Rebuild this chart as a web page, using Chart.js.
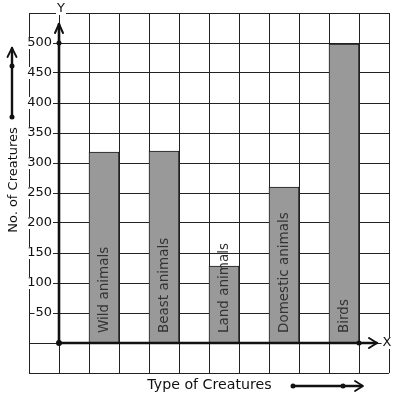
<!DOCTYPE html>
<html>
<head>
<meta charset="utf-8">
<script src="https://cdn.jsdelivr.net/npm/chart.js@4"></script>
<style>
  html, body { margin: 0; padding: 0; background: #fff; }
  #wrap { width: 397px; height: 399px; }
</style>
</head>
<body>
<div id="wrap"><canvas id="chart" width="397" height="399"></canvas></div>
<script>
// --- Data ---
const categories = ['Wild animals', 'Beast animals', 'Land animals', 'Domestic animals', 'Birds'];
const counts = [318, 320, 128, 260, 498];
const yTicks = [50, 100, 150, 200, 250, 300, 350, 400, 450, 500];
const xTitle = 'Type of Creatures';
const yTitle = 'No. of Creatures';

// 12 grid columns, one bar in every second column starting at column 2
const COLS = 12;
const slotLabels = new Array(COLS).fill('');
const slotValues = new Array(COLS).fill(null);
categories.forEach((c, i) => {
    slotLabels[2 + i * 2] = c;
    slotValues[2 + i * 2] = counts[i];
});

const FONT = '"DejaVu Sans", sans-serif';
const INK = '#111';

function dot(ctx, x, y, r) {
    ctx.beginPath();
    ctx.arc(x, y, r, 0, Math.PI * 2);
    ctx.fill();
}

function labelBox(ctx, text, x, y, align) {
    const w = ctx.measureText(text).width;
    const left = align === 'right' ? x - w : (align === 'center' ? x - w / 2 : x);
    ctx.fillStyle = '#fff';
    ctx.fillRect(left - 1, y - 6, w + 2, 12);
    ctx.fillStyle = INK;
    ctx.textAlign = align;
    ctx.fillText(text, x, y);
}

const decorations = {
    id: 'decorations',
    afterDatasetsDraw(chart) {
        const ctx = chart.ctx;
        const xs = chart.scales.x, ys = chart.scales.y;
        const ax = xs.getPixelForValue(0.5);
        const ay = ys.getPixelForValue(0);
        const top = chart.chartArea.top;
        const right = chart.chartArea.right;
        ctx.save();
        ctx.strokeStyle = INK;
        ctx.fillStyle = INK;
        ctx.lineCap = 'round';
        ctx.lineJoin = 'round';

        // axes
        ctx.lineWidth = 2.6;
        ctx.beginPath();
        ctx.moveTo(ax, ay);
        ctx.lineTo(ax, top + 11);
        ctx.moveTo(ax, ay);
        ctx.lineTo(right - 12, ay);
        ctx.stroke();
        ctx.lineWidth = 2;
        ctx.beginPath();
        ctx.moveTo(ax - 4, top + 20);
        ctx.lineTo(ax, top + 11);
        ctx.lineTo(ax + 4, top + 20);
        ctx.moveTo(right - 20, ay - 5);
        ctx.lineTo(right - 12, ay);
        ctx.lineTo(right - 20, ay + 5);
        ctx.stroke();
        dot(ctx, ax, ay, 3);
        dot(ctx, ax, ys.getPixelForValue(500), 2.5);
        dot(ctx, xs.getPixelForValue(10.5), ay, 2.5);

        // y tick labels
        ctx.font = '13px ' + FONT;
        ctx.textBaseline = 'middle';
        yTicks.forEach(v => labelBox(ctx, String(v), ax - 7, ys.getPixelForValue(v), 'right'));

        // axis letters
        labelBox(ctx, 'Y', ax + 2, top - 4, 'center');
        labelBox(ctx, 'X', right - 2, ay, 'center');

        // bar labels
        ctx.font = '13.5px ' + FONT;
        ctx.fillStyle = '#333';
        ctx.textAlign = 'left';
        categories.forEach((c, i) => {
            const px = xs.getPixelForValue(2 + i * 2);
            ctx.save();
            ctx.translate(px, ay - 10);
            ctx.rotate(-Math.PI / 2);
            ctx.fillText(c, 0, 0);
            ctx.restore();
        });

        // axis titles
        ctx.fillStyle = INK;
        ctx.textAlign = 'center';
        ctx.font = '14.2px ' + FONT;
        ctx.fillText(xTitle, 209.5, 385);
        ctx.font = '13px ' + FONT;
        ctx.save();
        ctx.translate(14, 180);
        ctx.rotate(-Math.PI / 2);
        ctx.fillText(yTitle, 0, 0);
        ctx.restore();

        // title arrows
        ctx.lineWidth = 2.4;
        ctx.beginPath();
        ctx.moveTo(12, 117);
        ctx.lineTo(12, 48);
        ctx.moveTo(293, 386);
        ctx.lineTo(362, 386);
        ctx.stroke();
        ctx.lineWidth = 1.8;
        ctx.beginPath();
        ctx.moveTo(7.5, 57);
        ctx.lineTo(12, 48);
        ctx.lineTo(16.5, 57);
        ctx.moveTo(355, 381);
        ctx.lineTo(363, 386);
        ctx.lineTo(355, 391);
        ctx.stroke();
        dot(ctx, 12, 117, 2.5);
        dot(ctx, 12, 66, 2.5);
        dot(ctx, 293, 386, 2.5);
        dot(ctx, 343, 386, 2.5);
        ctx.restore();
    }
};

new Chart(document.getElementById('chart'), {
    type: 'bar',
    data: {
        labels: slotLabels,
        datasets: [{
            data: slotValues,
            backgroundColor: '#999999',
            borderColor: '#1a1a1a',
            borderWidth: 1,
            barPercentage: 1,
            categoryPercentage: 1
        }]
    },
    options: {
        responsive: false,
        animation: false,
        events: [],
        layout: { padding: { left: 29, top: 13, right: 8, bottom: 26 } },
        plugins: { legend: { display: false }, tooltip: { enabled: false } },
        scales: {
            x: {
                ticks: { display: false },
                grid: { offset: true, drawTicks: false, color: '#222', lineWidth: 1 },
                border: { display: false }
            },
            y: {
                min: -50,
                max: 550,
                ticks: { display: false, stepSize: 50 },
                grid: { drawTicks: false, color: '#222', lineWidth: 1 },
                border: { display: false }
            }
        }
    },
    plugins: [decorations]
});
</script>
</body>
</html>
